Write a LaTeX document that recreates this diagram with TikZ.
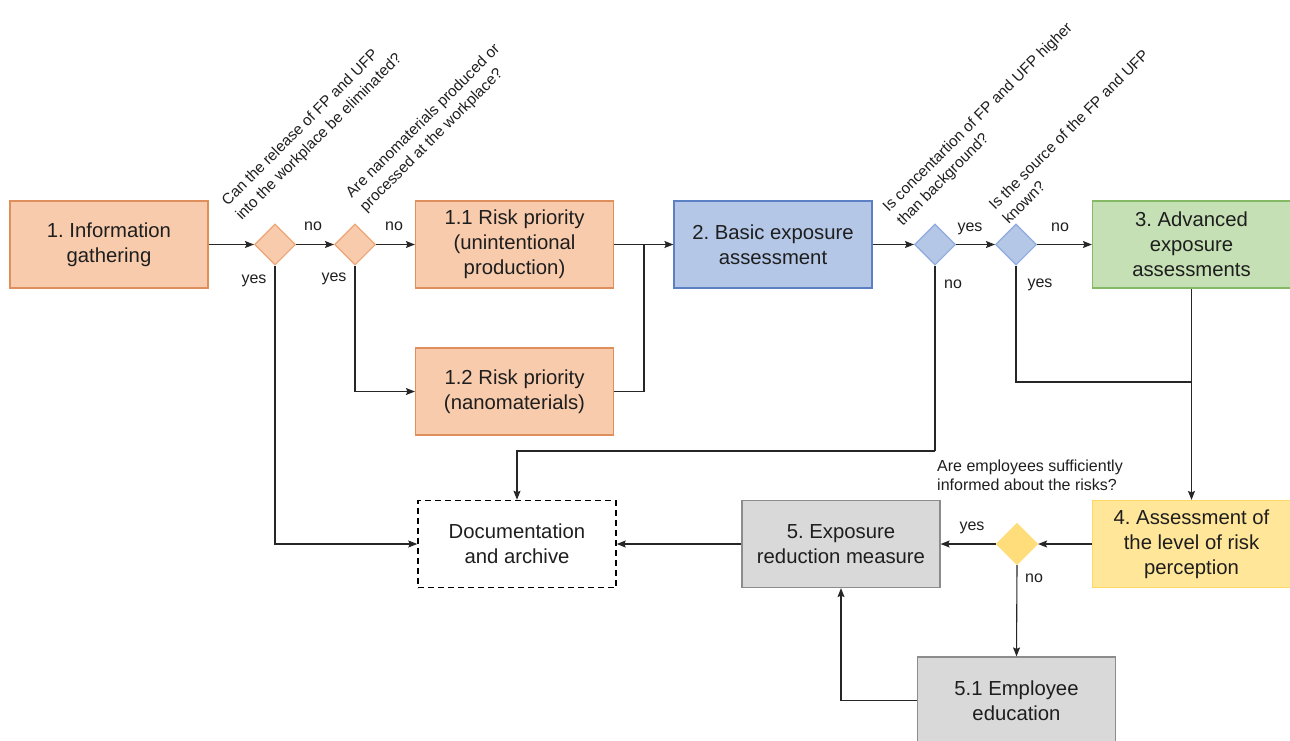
\documentclass[tikz,border=0pt]{standalone}
\usepackage{fontspec}
\setmainfont{Liberation Sans}
\usetikzlibrary{arrows.meta,shapes.geometric}
\definecolor{peachF}{HTML}{F8CBAD}
\definecolor{peachD}{HTML}{DE8F5C}
\definecolor{peachDd}{HTML}{EDA577}
\definecolor{blueF}{HTML}{B4C7E7}
\definecolor{blueD}{HTML}{5B80C4}
\definecolor{blueDd}{HTML}{8FAADC}
\definecolor{greenF}{HTML}{C5E0B4}
\definecolor{greenD}{HTML}{86B965}
\definecolor{yelF}{HTML}{FFE699}
\definecolor{yelD}{HTML}{FFD966}
\definecolor{yelDia}{HTML}{FFDD7A}
\definecolor{grayF}{HTML}{D9D9D9}
\definecolor{grayD}{HTML}{8C8C8C}
\definecolor{txt}{HTML}{1E1E1E}
\tikzset{
  box/.style={rectangle, minimum width=198pt, minimum height=87pt, inner sep=2pt, align=center,
    line width=1.2pt, text=txt, font=\fontsize{20.3}{25}\selectfont},
  orangebox/.style={box, fill=peachF, draw=peachD},
  bluebox/.style={box, fill=blueF, draw=blueD},
  greenbox/.style={box, fill=greenF, draw=greenD},
  yellowbox/.style={box, fill=yelF, draw=yelD},
  graybox/.style={box, fill=grayF, draw=grayD},
  docbox/.style={box, draw=black, dashed, dash pattern=on 6pt off 4pt, line width=1.5pt},
  dia/.style={diamond, aspect=1, minimum width=41pt, minimum height=41pt, inner sep=0pt, line width=1.1pt},
  odia/.style={dia, fill=peachF, draw=peachDd},
  bdia/.style={dia, fill=blueF, draw=blueDd},
  ydia/.style={dia, fill=yelDia, draw=yelDia},
  lbl/.style={text=txt, font=\fontsize{16}{19}\selectfont, inner sep=0pt},
  quest/.style={text=txt, font=\fontsize{15.3}{19.5}\selectfont, inner sep=0pt, rotate=45, anchor=south west, align=left},
  conn/.style={line width=1.1pt, draw=black!85},
  arr/.style={conn, -{Stealth[length=9pt, width=7pt, inset=1.5pt]}},
}
\begin{document}
\frenchspacing
\begin{tikzpicture}[x=1pt,y=-1pt]
\useasboundingbox (0,0) rectangle (1290,740);
% boxes
\node[orangebox] (b1) at (109,244.5) {1. Information\\gathering};
\node[orangebox] (b11) at (514.5,244.5) {1.1 Risk priority\\(unintentional\\production)};
\node[orangebox] (b12) at (514.5,391.5) {1.2 Risk priority\\(nanomaterials)};
\node[bluebox] (b2) at (773,244.5) {2. Basic exposure\\assessment};
\node[greenbox] (b3) at (1191.5,244.5) {3. Advanced\\exposure\\assessments};
\node[yellowbox] (b4) at (1191.5,544) {4. Assessment of\\the level of risk\\perception};
\node[graybox] (b5) at (841,544) {5. Exposure\\reduction measure};
\node[graybox] (b51) at (1016.5,700.5) {5.1 Employee\\education};
\node[docbox] (doc) at (517,544) {Documentation\\and archive};
% diamonds
\node[odia] (d1) at (275,244.5) {};
\node[odia] (d2) at (355,244.5) {};
\node[bdia] (d3) at (935,244.5) {};
\node[bdia] (d4) at (1016,244.5) {};
\node[ydia] (d5) at (1017,544) {};
% helper coordinates
\coordinate (m) at (644,244.5);
\coordinate (c3) at (935,451);
\coordinate (c4) at (1016,382);
\coordinate (j4) at (1191.5,382);
% connectors
\draw[arr] (b1) -- (d1);
\draw[arr] (d1) -- (d2);
\draw[arr] (d2) -- (b11);
\draw[arr] (d1.south) |- (doc.west);
\draw[arr] (d2.south) |- (b12.west);
\draw[arr] (b11) -- (b2);
\draw[conn] (b12.east) -| (m);
\draw[arr] (b2) -- (d3);
\draw[arr] (d3) -- (d4);
\draw[arr] (d4) -- (b3);
\draw[conn] (d3.south) -- (c3);
\draw[arr] (c3) -| (doc.north);
\draw[conn] (d4.south) -- (c4) -- (j4);
\draw[arr] (b3.south) -- (b4.north);
\draw[arr] (b4) -- (d5);
\draw[arr] (d5) -- (b5);
\draw[arr] (d5.south) -- (b51.north);
\draw[arr] (b51.west) -| (b5.south);
\draw[arr] (b5) -- (doc);
% labels
\node[lbl] (l1) at (313,226) {no};
\node[lbl] (l2) at (394,226) {no};
\node[lbl] (l3) at (254,281) {yes};
\node[lbl] (l4) at (334,279) {yes};
\node[lbl] (l5) at (970,229) {yes};
\node[lbl] (l6) at (1060,227) {no};
\node[lbl] (l7) at (953,284) {no};
\node[lbl] (l8) at (1040,285) {yes};
\node[lbl] (l9) at (972,528) {yes};
\node[lbl] (l10) at (1034,578) {no};
% questions
\node[quest] (q1) at (244,223) {Can the release of FP and UFP\\into the workplace be eliminated?};
\node[quest] (q2) at (368,215) {Are nanomaterials produced or\\processed at the workplace?};
\node[quest] (q3) at (905,229) {Is concentartion of FP and UFP higher\\than background?};
\node[quest] (q4) at (1009,225) {Is the source of the FP and UFP\\known?};
\node[lbl, anchor=north west, align=left] (q5) at (937,460) {Are employees sufficiently\\informed about the risks?};
\end{tikzpicture}
\end{document}
